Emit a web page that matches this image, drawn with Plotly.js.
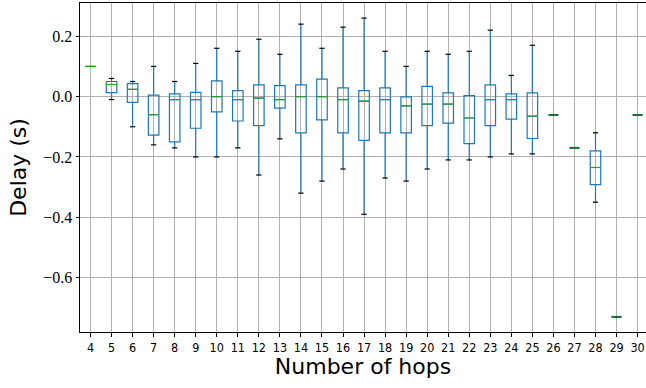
<!DOCTYPE html>
<html>
<head>
<meta charset="utf-8">
<script src="https://cdn.plot.ly/plotly-3.0.1.min.js"></script>
<style>html,body{margin:0;padding:0;background:#fff;}#chart{width:646px;height:388px;}</style>
</head>
<body>
<div id="chart"></div>
<script>
// Number of hops (box positions)
const hops = [4,5,6,7,8,9,10,11,12,13,14,15,16,17,18,19,20,21,22,23,24,25,26,27,28,29,30];
// Box statistics (seconds)
const upperWhisker = [0.10,0.06,0.05,0.10,0.05,0.11,0.16,0.15,0.19,0.14,0.24,0.16,0.23,0.26,0.15,0.10,0.15,0.14,0.15,0.22,0.07,0.17,-0.061,-0.17,-0.12,-0.73,-0.061];
const q3 = [0.10,0.05,0.043,0.005,0.009,0.014,0.052,0.02,0.039,0.036,0.039,0.058,0.029,0.02,0.029,-0.001,0.034,0.012,0.003,0.039,0.009,0.012,-0.061,-0.17,-0.18,-0.73,-0.061];
const median = [0.10,0.04,0.024,-0.06,-0.01,-0.01,0.0,-0.01,-0.005,-0.01,0.0,0.0,-0.01,-0.015,-0.01,-0.031,-0.025,-0.025,-0.071,-0.01,-0.01,-0.065,-0.061,-0.17,-0.235,-0.73,-0.061];
const q1 = [0.10,0.013,-0.019,-0.128,-0.15,-0.105,-0.051,-0.081,-0.096,-0.038,-0.12,-0.077,-0.12,-0.145,-0.12,-0.12,-0.096,-0.088,-0.156,-0.096,-0.075,-0.139,-0.061,-0.17,-0.292,-0.73,-0.061];
const lowerWhisker = [0.10,-0.01,-0.10,-0.16,-0.17,-0.20,-0.20,-0.17,-0.26,-0.14,-0.32,-0.28,-0.24,-0.39,-0.27,-0.28,-0.24,-0.21,-0.21,-0.20,-0.19,-0.19,-0.061,-0.17,-0.35,-0.73,-0.061];
// Hops with a single observation (collapsed box)
const singleHops = [26,27,29,30];
const yTicks = [-0.6,-0.4,-0.2,0.0,0.2];

const boxW = 0.5, capW = 0.25;

function segs(vals, half, filter) {
  const xs = [], ys = [];
  hops.forEach((h, i) => {
    if (filter && !filter(h)) return;
    xs.push(h - half, h + half, null);
    ys.push(vals[i], vals[i], null);
  });
  return {xs, ys};
}

const boxTrace = {
  type: 'box',
  x: hops,
  q1: q1, median: median, q3: q3,
  lowerfence: lowerWhisker, upperfence: upperWhisker,
  width: boxW,
  whiskerwidth: 0,
  boxpoints: false,
  line: {color: '#1f77b4', width: 1.2},
  fillcolor: 'rgba(0,0,0,0)',
  hoverinfo: 'skip',
  showlegend: false
};

const capsU = segs(upperWhisker, capW / 2, h => !singleHops.includes(h) && h !== 4);
const capsL = segs(lowerWhisker, capW / 2, h => !singleHops.includes(h) && h !== 4);
const capTrace = {
  type: 'scatter', mode: 'lines',
  x: capsU.xs.concat(capsL.xs), y: capsU.ys.concat(capsL.ys),
  line: {color: '#000000', width: 1.2},
  hoverinfo: 'skip', showlegend: false
};

const medN = segs(median, boxW / 2, h => !singleHops.includes(h));
const medTrace = {
  type: 'scatter', mode: 'lines',
  x: medN.xs, y: medN.ys,
  line: {color: '#2ca02c', width: 1.2},
  hoverinfo: 'skip', showlegend: false
};
const medS = segs(median, boxW / 2 - 0.02, h => singleHops.includes(h));
const medSingleTrace = {
  type: 'scatter', mode: 'lines',
  x: medS.xs, y: medS.ys,
  line: {color: '#1c6e30', width: 2},
  hoverinfo: 'skip', showlegend: false
};

const sansFont = 'DejaVu Sans, sans-serif';
const layout = {
  width: 646, height: 388,
  margin: {l: 80, r: 0, t: 3, b: 56},
  paper_bgcolor: '#ffffff', plot_bgcolor: '#ffffff',
  showlegend: false,
  xaxis: {
    range: [3.5, 30.4],
    tickmode: 'array', tickvals: hops, ticktext: hops.map(String),
    showgrid: true, gridcolor: '#b0b0b0', gridwidth: 1,
    zeroline: false,
    showline: true, linecolor: '#000000', linewidth: 1, mirror: true,
    ticks: 'outside', ticklen: 3.5, tickcolor: '#000000',
    tickfont: {family: 'DejaVu Sans Condensed, DejaVu Sans, sans-serif', size: 12.5, color: '#000'},
    title: {text: 'Number of hops', font: {family: sansFont, size: 22, color: '#000'}, standoff: 3}
  },
  yaxis: {
    range: [-0.780, 0.310],
    tickmode: 'array', tickvals: yTicks, ticktext: yTicks.map(v => (v < 0 ? '\u2212' : '') + Math.abs(v).toFixed(1)),
    showgrid: true, gridcolor: '#b0b0b0', gridwidth: 1,
    zeroline: false,
    showline: true, linecolor: '#000000', linewidth: 1, mirror: false,
    ticks: 'outside', ticklen: 3.5, tickcolor: '#000000',
    tickfont: {family: 'Liberation Serif, DejaVu Serif, serif', size: 16, color: '#000'},
    title: {text: 'Delay (s)', font: {family: sansFont, size: 22, color: '#000'}, standoff: 10}
  }
};

Plotly.newPlot('chart', [boxTrace, capTrace, medTrace, medSingleTrace], layout, {displayModeBar: false, staticPlot: true});
</script>
</body>
</html>
